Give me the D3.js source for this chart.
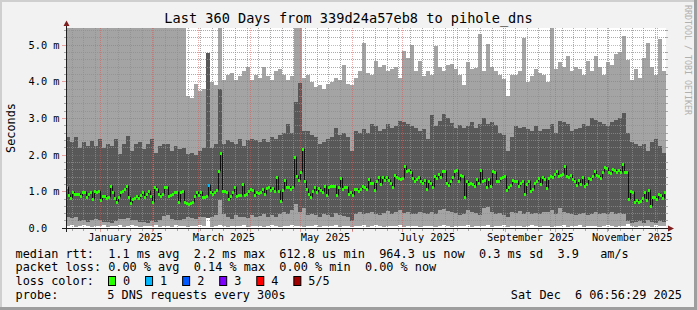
<!DOCTYPE html>
<html>
<head>
<meta charset="utf-8">
<script src="https://cdn.jsdelivr.net/npm/d3@7"></script>
<style>
  body { margin: 0; background: #f2f2f2; }
  text { font-family: "DejaVu Sans Mono", monospace; white-space: pre; }
</style>
</head>
<body>
<div class="canvas"></div>
<script>
// smokeping 360 day view, values in ms
// median: one value per 1.2 days (300 steps)
const median = [
  1.14,0.92,0.83,0.98,0.95,0.95,0.95,0.89,0.98,0.98,0.86,0.94,0.98,0.8,1.03,0.98,1.03,0.77,0.89,0.89,0.83,0.85,1.16,0.98,0.83,0.71,0.86,0.98,1.03,1.07,
  1.16,0.85,0.68,0.8,0.83,0.89,0.83,0.92,0.98,0.85,0.94,1.03,0.89,0.71,1.12,1.07,0.94,0.89,0.94,1.12,1.14,0.89,0.92,0.94,0.98,0.98,0.71,0.98,1.03,0.71,
  0.69,0.66,0.69,0.71,0.89,1.0,0.91,0.98,0.86,0.85,0.89,1.18,0.98,0.95,0.98,1.05,1.57,2.07,1.01,1.03,0.98,0.8,0.87,0.98,1.14,0.89,0.92,0.92,1.21,0.92,
  0.94,1.03,1.07,1.05,0.92,0.98,0.96,0.98,1.07,0.95,1.1,1.14,1.05,1.09,1.03,1.39,1.03,0.75,1.05,1.32,1.12,1.14,1.08,1.12,1.94,1.44,1.33,1.55,2.16,1.3,
  1.07,0.94,0.86,1.03,1.14,0.98,1.1,1.05,0.98,1.16,0.92,1.12,1.16,1.15,1.16,0.92,1.12,1.37,1.07,1.14,1.12,0.94,0.98,0.92,1.07,1.07,1.01,1.07,1.15,1.12,
  1.07,1.35,1.25,1.23,1.05,1.3,1.41,1.21,1.39,1.32,1.39,1.32,1.25,1.14,1.46,1.39,1.36,1.35,1.37,1.71,1.57,1.59,1.53,1.37,1.3,1.34,1.41,1.3,1.25,1.32,
  1.07,1.3,1.25,1.14,1.44,1.37,1.48,1.39,1.57,1.57,1.23,1.19,1.3,1.39,1.57,1.59,1.3,1.46,1.44,0.86,1.3,1.21,1.25,1.21,1.16,1.35,1.23,1.59,1.3,1.32,
  1.14,1.35,1.16,1.57,1.53,1.3,1.3,1.37,1.39,1.42,1.05,1.12,1.19,1.32,1.3,1.3,1.15,1.25,1.3,0.94,1.21,1.3,1.03,1.07,1.25,1.3,1.37,1.21,1.39,1.35,
  1.09,1.37,1.44,1.39,1.48,1.57,1.44,1.46,1.48,1.71,1.44,1.41,1.46,1.35,1.3,1.19,1.32,1.21,1.39,1.16,1.21,1.37,1.35,1.44,1.57,1.46,1.44,1.37,1.53,1.68,
  1.65,1.53,1.5,1.62,1.59,1.53,1.59,1.55,1.75,1.55,1.55,0.8,1.03,0.98,0.71,0.77,0.71,0.75,0.83,0.98,0.77,1.05,0.62,0.85,0.85,0.8,0.94,0.92,0.83,0.98
];
const lossEvents = [[71, 1]]; // [median step, pings lost]

// smoke: one value per 2.4 days (150 steps)
// lowest ping
const ping1 = [
  0.05,0.08,0.04,0.06,0.1,0.05,0.03,0.07,0.05,0.09,0.04,0.06,0.05,0.08,0.03,0.06,0.1,0.05,0.04,0.07,0.06,0.05,0.09,0.04,0.06,0.05,0.03,0.08,0.05,0.06,
  0.04,0.07,0.05,0.1,0.06,0.28,0.04,0.05,0.08,0.06,0.04,0.07,0.05,0.06,0.09,0.04,0.05,0.07,0.06,0.03,0.05,0.08,0.06,0.04,0.07,0.05,0.09,0.06,0.05,0.04,
  0.06,0.05,0.08,0.04,0.07,0.05,0.06,0.1,0.04,0.05,0.07,0.03,0.06,0.05,0.08,0.04,0.06,0.09,0.05,0.04,0.07,0.06,0.05,0.08,0.04,0.06,0.05,0.07,0.04,0.06,
  0.05,0.07,0.04,0.06,0.09,0.05,0.04,0.07,0.06,0.05,0.08,0.04,0.06,0.05,0.07,0.1,0.04,0.06,0.05,0.08,0.04,0.06,0.05,0.07,0.04,0.06,0.08,0.05,0.04,0.06,
  0.06,0.04,0.07,0.05,0.08,0.04,0.06,0.05,0.09,0.04,0.06,0.05,0.07,0.04,0.06,0.08,0.05,0.04,0.07,0.06,0.12,0.05,0.04,0.07,0.05,0.06,0.04,0.08,0.05,0.06
];
// 2nd ping (bottom of the dark smoke)
const ping2 = [
  0.3,0.28,0.32,0.2,0.22,0.18,0.24,0.26,0.22,0.16,0.18,0.15,0.2,0.26,0.25,0.28,0.24,0.22,0.16,0.18,0.15,0.2,0.17,0.24,0.34,0.36,0.26,0.24,0.22,0.25,
  0.3,0.28,0.25,0.32,0.3,0.28,0.3,0.35,0.78,0.4,0.3,0.25,0.35,0.3,0.32,0.28,0.35,0.3,0.33,0.38,0.3,0.35,0.3,0.4,0.45,0.4,0.5,0.65,0.45,0.55,
  0.35,0.4,0.35,0.3,0.38,0.35,0.3,0.42,0.36,0.33,0.3,0.2,0.4,0.45,0.38,0.42,0.45,0.4,0.35,0.42,0.48,0.4,0.45,0.5,0.42,0.45,0.38,0.4,0.45,0.42,
  0.4,0.45,0.38,0.5,0.52,0.48,0.45,0.42,0.35,0.38,0.5,0.45,0.42,0.35,0.55,0.57,0.45,0.4,0.42,0.35,0.3,0.45,0.42,0.48,0.4,0.45,0.4,0.42,0.38,0.45,
  0.45,0.5,0.4,0.55,0.45,0.42,0.4,0.35,0.38,0.42,0.35,0.4,0.45,0.38,0.42,0.4,0.45,0.38,0.42,0.4,0.2,0.15,0.18,0.2,0.15,0.22,0.18,0.15,0.2,0.18
];
// 4th ping (top of the dark smoke)
const ping4 = [
  2.48,2.35,2.48,2.2,2.35,2.25,2.39,2.25,2.44,2.2,2.3,2.25,2.44,2.03,2.3,2.53,2.12,2.3,2.35,2.16,2.3,2.44,2.07,2.25,2.3,2.3,2.12,2.25,2.16,2.2,
  2.03,2.05,2.0,2.1,2.2,4.8,2.2,2.3,3.8,2.3,2.4,2.35,2.3,2.45,2.25,2.4,2.45,2.4,2.35,2.45,2.35,2.5,2.45,2.55,2.6,2.85,2.6,3.44,3.98,2.66,
  2.66,2.55,2.5,2.3,2.35,2.45,2.5,2.75,2.55,2.6,2.5,2.1,2.65,2.6,2.7,2.6,2.85,2.8,2.65,2.7,2.85,2.75,2.8,2.94,2.9,2.85,2.8,2.75,2.65,2.7,
  2.44,3.1,2.8,2.94,3.12,3.0,2.88,2.75,2.82,2.75,2.8,2.9,2.75,2.85,3.0,2.85,2.9,2.82,2.6,2.55,2.1,2.5,2.8,2.75,2.78,2.7,2.65,2.8,2.65,2.7,
  2.7,2.85,2.6,2.94,2.9,2.85,2.66,2.7,2.75,2.85,2.8,3.0,2.95,2.9,2.85,2.8,2.9,2.95,3.0,3.16,2.6,2.35,2.3,2.25,2.3,2.12,2.35,2.44,2.25,2.05
];
// highest ping (first weeks are above the top of the chart), null = ping lost
const ping5 = [
  6,6,6,6,6,6,6,6,6,6,6,6,6,6,6,6,6,6,6,6,6,6,6,6,6,6,6,6,6,6,
  3.6,3.55,3.94,3.75,3.8,null,4.0,3.9,6,4.05,4.2,4.25,4.05,4.15,4.3,4.4,4.05,4.2,4.1,4.4,4.15,4.05,4.3,4.36,4.2,4.05,4.15,6,6,4.1,
  4.2,4.0,3.85,3.9,3.8,3.95,4.0,4.1,4.05,4.46,3.95,3.9,4.1,4.3,5.07,4.25,4.2,4.57,4.4,4.45,4.3,4.35,4.4,4.1,4.85,4.65,5.0,4.3,4.57,4.15,
  4.3,4.2,4.98,4.4,4.3,4.45,4.5,4.35,4.2,3.9,4.53,4.35,4.38,5.3,4.3,5.03,4.4,4.3,4.2,4.07,3.6,4.2,4.2,4.3,5.2,4.0,4.15,4.35,4.25,4.2,
  4.0,5.6,4.35,4.53,4.4,4.7,4.3,4.4,4.35,4.2,4.57,4.3,4.7,4.4,4.2,4.55,4.45,4.75,4.82,5.25,4.6,4.05,4.35,4.1,4.66,5.07,4.4,4.2,5.16,4.3
];

const lossLabels = ['0', '1', '2', '3', '4', '5/5'];
const lossColors = ['#26ff00', '#00b8ff', '#0059ff', '#7e00ff', '#ff0000', '#a10000'];

const yTicks = [0, 1, 2, 3, 4, 5];
const yTickLabels = ['0.0', '1.0 m', '2.0 m', '3.0 m', '4.0 m', '5.0 m'];
const xLabelMonths = ['2025-01-01', '2025-03-01', '2025-05-01', '2025-07-01', '2025-09-01', '2025-11-01'];

const title = 'Last 360 Days from 339d24a57eb8 to pihole_dns';
const rttLine = 'median rtt:  1.1 ms avg  2.2 ms max  612.8 us min  964.3 us now  0.3 ms sd  3.9   am/s';
const lossLine = 'packet loss: 0.00 % avg  0.14 % max  0.00 % min  0.00 % now';
const probeText = '5 DNS requests every 300s';
const stamp = 'Sat Dec  6 06:56:29 2025';

const W = 697, H = 310;
const svg = d3.select('.canvas')
  .append('svg')
  .attr('width', W)
  .attr('height', H);

// frame
svg.append('rect').attr('width', W).attr('height', H).attr('fill', '#f2f2f2');
svg.append('rect').attr('width', W).attr('height', 2).attr('fill', '#cfcfcf');
svg.append('rect').attr('width', 2).attr('height', H).attr('fill', '#cfcfcf');
svg.append('rect').attr('y', H - 3).attr('width', W).attr('height', 3).attr('fill', '#9e9e9e');
svg.append('rect').attr('x', W - 3).attr('width', 3).attr('height', H).attr('fill', '#9e9e9e');

const start = new Date(Date.UTC(2024, 11, 11, 6, 56, 29));
const end = new Date(Date.UTC(2025, 11, 6, 6, 56, 29));
const N = ping5.length;
const M = median.length;
const times = d3.range(N + 1).map(i => new Date(+start + i * (end - start) / N));
const medTimes = d3.range(M + 1).map(i => new Date(+start + i * (end - start) / M));

const x = d3.scaleUtc().domain([start, end]).range([66, 666]);
const y = d3.scaleLinear().domain([0, 5.47]).range([228.3, 28]);

svg.append('clipPath').attr('id', 'plot')
  .append('rect').attr('x', 66).attr('y', 28).attr('width', 600).attr('height', 200.3);

svg.append('rect').attr('x', 66).attr('y', 28).attr('width', 600).attr('height', 200.3).attr('fill', '#fff');

const graph = svg.append('g').attr('clip-path', 'url(#plot)').attr('shape-rendering', 'crispEdges');

// smoke
graph.selectAll('rect.light')
  .data(d3.range(N).filter(i => ping5[i] != null))
  .enter().append('rect')
  .attr('x', i => x(times[i]))
  .attr('width', i => x(times[i + 1]) - x(times[i]))
  .attr('y', i => y(ping5[i]))
  .attr('height', i => y(ping1[i]) - y(ping5[i]))
  .attr('fill', '#a4a4a4');

graph.selectAll('rect.dark')
  .data(d3.range(N))
  .enter().append('rect')
  .attr('x', i => x(times[i]))
  .attr('width', i => x(times[i + 1]) - x(times[i]))
  .attr('y', i => y(ping4[i]))
  .attr('height', i => y(ping2[i]) - y(ping4[i]))
  .attr('fill', '#585858');

// grid
const grid = svg.append('g');
const px = v => Math.floor(v) + 0.5;
const minorCol = 'rgba(143,143,143,0.75)';
const majorCol = 'rgba(222,79,79,0.5)';
const weeks = d3.utcSunday.range(start, end);
const months = d3.utcMonth.range(start, end);
const monthKeys = new Set(months.map(d => +d));
const hMinor = d3.range(1, 28).map(i => i * 0.2).filter(v => Math.abs(v - Math.round(v)) > 1e-6);

grid.selectAll('line.vmin')
  .data(weeks.filter(d => !monthKeys.has(+d)))
  .enter().append('line')
  .attr('x1', d => px(x(d))).attr('x2', d => px(x(d)))
  .attr('y1', 28).attr('y2', 228)
  .attr('stroke', minorCol).attr('stroke-dasharray', '1,1');

grid.selectAll('line.hmin')
  .data(hMinor)
  .enter().append('line')
  .attr('x1', 67).attr('x2', 666)
  .attr('y1', d => px(y(d))).attr('y2', d => px(y(d)))
  .attr('stroke', minorCol).attr('stroke-dasharray', '1,1');

grid.selectAll('line.vmaj')
  .data(months)
  .enter().append('line')
  .attr('x1', d => px(x(d))).attr('x2', d => px(x(d)))
  .attr('y1', 28).attr('y2', 228)
  .attr('stroke', majorCol).attr('stroke-dasharray', '1,1');

grid.selectAll('line.hmaj')
  .data(yTicks.slice(1))
  .enter().append('line')
  .attr('x1', 67).attr('x2', 666)
  .attr('y1', d => px(y(d))).attr('y2', d => px(y(d)))
  .attr('stroke', majorCol).attr('stroke-dasharray', '1,1');

// ticks on the frame of the plot
grid.selectAll('line.ytick')
  .data(hMinor)
  .enter().append('line')
  .attr('x1', 64).attr('x2', 67)
  .attr('y1', d => px(y(d))).attr('y2', d => px(y(d)))
  .attr('stroke', minorCol);
grid.selectAll('line.ytickr')
  .data(hMinor)
  .enter().append('line')
  .attr('x1', 665).attr('x2', 668)
  .attr('y1', d => px(y(d))).attr('y2', d => px(y(d)))
  .attr('stroke', minorCol);
grid.selectAll('line.ymaj')
  .data(yTicks)
  .enter().append('line')
  .attr('x1', 62).attr('x2', 67)
  .attr('y1', d => px(y(d))).attr('y2', d => px(y(d)))
  .attr('stroke', majorCol);
grid.selectAll('line.xtick')
  .data(weeks)
  .enter().append('line')
  .attr('x1', d => px(x(d))).attr('x2', d => px(x(d)))
  .attr('y1', 228).attr('y2', 231)
  .attr('stroke', minorCol);
grid.selectAll('line.xmaj')
  .data(months)
  .enter().append('line')
  .attr('x1', d => px(x(d))).attr('x2', d => px(x(d)))
  .attr('y1', 228).attr('y2', 232)
  .attr('stroke', majorCol);

// median, coloured by loss
const lossOf = new Map(lossEvents);
const medPts = median.map((m, i) => [medTimes[i], m]).concat([[medTimes[M], median[M - 1]]]);
const medLine = d3.line()
  .x(d => Math.round(x(d[0])) + 0.5)
  .y(d => Math.round(y(d[1])))
  .curve(d3.curveStepAfter);

const med = svg.append('g').attr('clip-path', 'url(#plot)');
med.append('path')
  .attr('d', medLine(medPts))
  .attr('fill', 'none')
  .attr('stroke', '#111')
  .attr('stroke-width', 1);

med.selectAll('rect')
  .data(median)
  .enter().append('rect')
  .attr('shape-rendering', 'crispEdges')
  .attr('x', (d, i) => Math.round(x(medTimes[i])))
  .attr('width', (d, i) => Math.round(x(medTimes[i + 1])) - Math.round(x(medTimes[i])))
  .attr('y', d => Math.round(y(d)) - 1.5)
  .attr('height', 3)
  .attr('fill', (d, i) => lossColors[lossOf.get(i) || 0]);

// axes
svg.append('line').attr('x1', 62).attr('x2', 670).attr('y1', 228.5).attr('y2', 228.5)
  .attr('stroke', '#1f1f1f');
svg.append('line').attr('x1', 66.5).attr('x2', 66.5).attr('y1', 232).attr('y2', 25)
  .attr('stroke', '#1f1f1f');
svg.append('path').attr('d', 'M668,225.5L674,228.5L668,231.5Z').attr('fill', '#801f1f');
svg.append('path').attr('d', 'M63.5,26L66.5,20.5L69.5,26Z').attr('fill', '#801f1f');

svg.selectAll('text.ylab')
  .data(yTicks)
  .enter().append('text')
  .attr('x', 28.5)
  .attr('y', d => px(y(d)) + 3.6)
  .attr('font-size', '10.3px')
  .attr('fill', '#000')
  .text((d, i) => yTickLabels[i]);

const fmtMonth = d3.utcFormat('%B %Y');
svg.selectAll('text.xlab')
  .data(xLabelMonths.map(s => new Date(s + 'T00:00:00Z')))
  .enter().append('text')
  .attr('x', d => x(d3.utcDay.offset(d, 15)))
  .attr('y', 240.5)
  .attr('text-anchor', 'middle')
  .attr('font-size', '10.3px')
  .text(d => fmtMonth(d));

// titles
svg.append('text')
  .attr('x', 348.5).attr('y', 23)
  .attr('text-anchor', 'middle')
  .attr('font-size', '13.6px')
  .text(title);

svg.append('text')
  .attr('transform', 'translate(15,128) rotate(-90)')
  .attr('text-anchor', 'middle')
  .attr('font-size', '11.85px')
  .text('Seconds');

svg.append('text')
  .attr('transform', 'translate(685,5) rotate(90)')
  .attr('font-size', '8.3px')
  .attr('fill', '#b0b0b0')
  .text('RRDTOOL / TOBI OETIKER');

// legend
const legend = svg.append('g').attr('font-size', '11.85px');
legend.append('text').attr('x', 15.5).attr('y', 257.5).text(rttLine);
legend.append('text').attr('x', 15.5).attr('y', 271.3).text(lossLine);
legend.append('text').attr('x', 15.5).attr('y', 285.1).text('loss color:');
legend.append('text').attr('x', 15.5).attr('y', 298.9).text('probe:');
legend.append('text').attr('x', 107.3).attr('y', 298.9).text(probeText);
legend.append('text').attr('x', 682).attr('y', 298.9).attr('text-anchor', 'end').text(stamp);

const keys = legend.selectAll('g.key')
  .data(lossLabels)
  .enter().append('g')
  .attr('transform', (d, i) => `translate(${108.5 + i * 37.07},0)`);
keys.append('rect')
  .attr('x', 0).attr('y', 276.5)
  .attr('width', 7).attr('height', 9)
  .attr('fill', (d, i) => lossColors[i])
  .attr('stroke', '#000');
keys.append('text')
  .attr('x', 14.5).attr('y', 285.1)
  .text(d => d);
</script>
</body>
</html>
